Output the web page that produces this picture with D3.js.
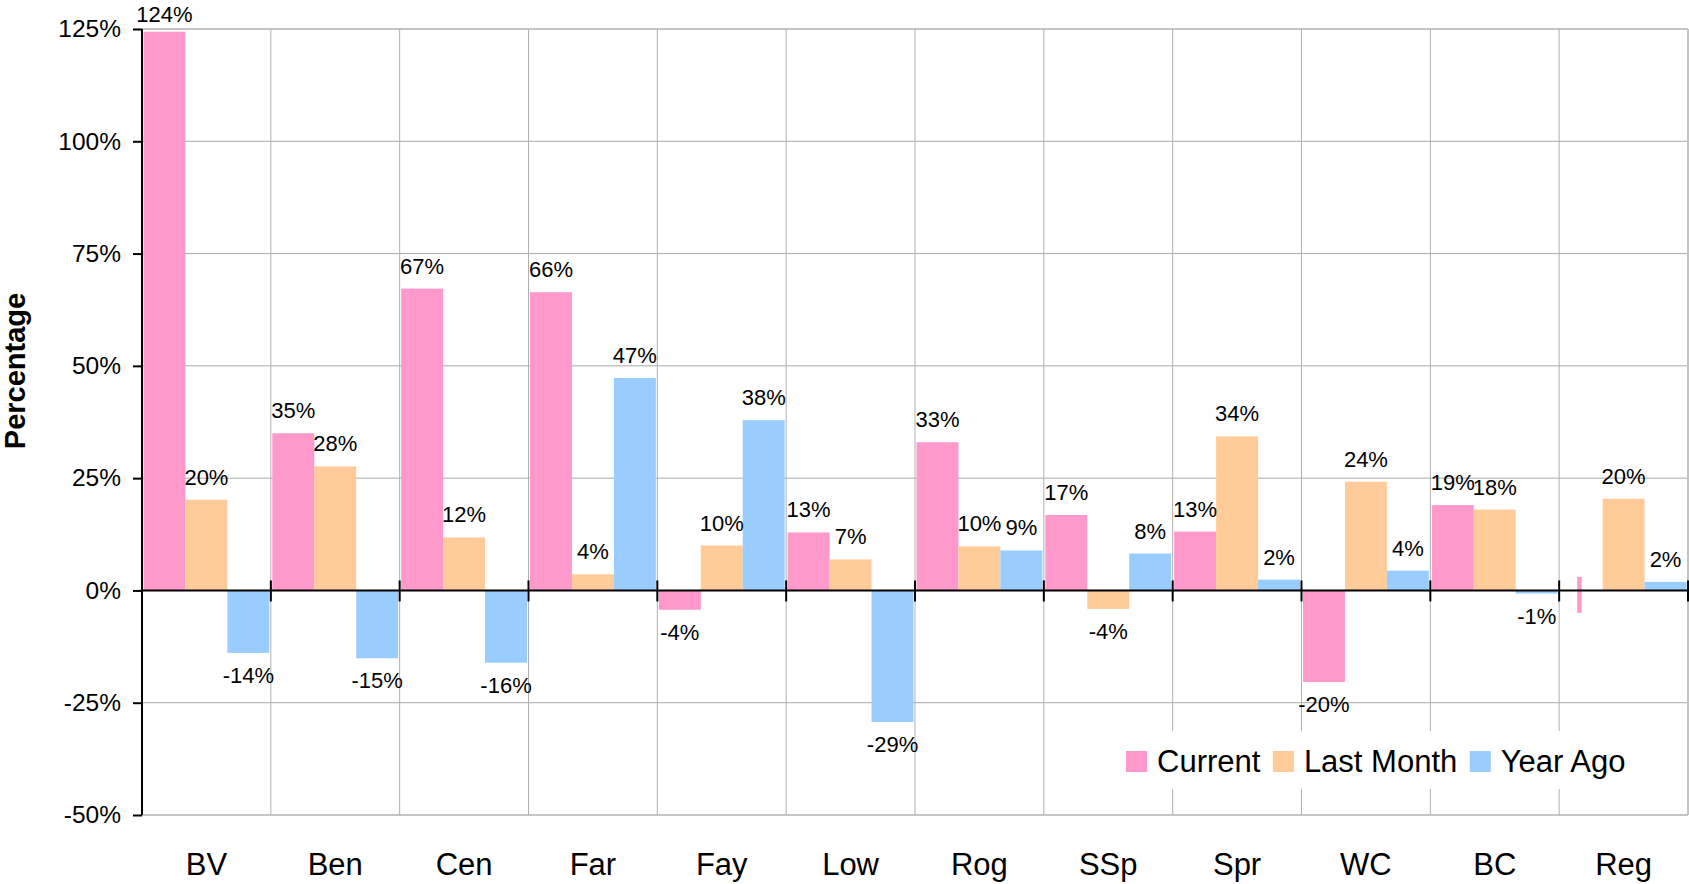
<!DOCTYPE html>
<html>
<head>
<meta charset="utf-8">
<script src="https://cdn.jsdelivr.net/npm/d3@7"></script>
<style>
  html, body { margin: 0; padding: 0; background: #fff; }
  svg { display: block; font-family: "Liberation Sans", Arial, sans-serif; }
</style>
</head>
<body>
<svg id="chart" width="1689" height="884"></svg>
<script>
// Monthly percentage change by branch
const categories = ["BV", "Ben", "Cen", "Far", "Fay", "Low", "Rog", "SSp", "Spr", "WC", "BC", "Reg"];
const current   = [124.4, 35.0, 67.2, 66.4, -4.3, 12.9, 33.0, 16.8, 13.1, -20.4, 19.0, null];
const lastMonth = [20.2, 27.6, 11.8, 3.6, 10.0, 6.9, 9.8, -4.1, 34.3, 24.2, 18.0, 20.4];
const yearAgo   = [-13.9, -15.1, -16.1, 47.3, 37.9, -29.3, 8.9, 8.2, 2.4, 4.4, -0.7, 1.9];
const seriesNames = ["Current", "Last Month", "Year Ago"];
const seriesColors = ["#ff99cc", "#ffcc99", "#99ccff"];
const yTicks = [-50, -25, 0, 25, 50, 75, 100, 125];
// Reg has no current figure; a thin stub marks its slot
const regCurrentStub = [-5, 3];

const series = [current, lastMonth, yearAgo];

const svg = d3.select("#chart");
const plot = { left: 142, right: 1688, top: 29, bottom: 815 };

const x = d3.scaleBand().domain(categories).range([plot.left, plot.right]).padding(0);
const xs = d3.scaleBand().domain(d3.range(series.length))
  .range([1.5, x.bandwidth() - 1.5]).padding(0);
const y = d3.scaleLinear().domain([-50, 125]).range([plot.bottom, plot.top]);

// percent with a plain hyphen for negatives
const fmt = v => Math.round(v) + "%";

// gridlines
const grid = svg.append("g");
grid.selectAll("line.h").data(yTicks.filter(t => t !== 0)).join("line")
  .attr("x1", plot.left).attr("x2", plot.right)
  .attr("y1", d => y(d)).attr("y2", d => y(d))
  .attr("stroke", d => (d === 125 || d === -50) ? "#c4c4c4" : "#a8a8a8")
  .attr("stroke-width", d => (d === 125 || d === -50) ? 2 : 1);
const boundaries = categories.map(c => x(c)).concat([plot.right]);
grid.selectAll("line.v").data(boundaries.slice(1)).join("line")
  .attr("x1", d => d).attr("x2", d => d)
  .attr("y1", plot.top).attr("y2", plot.bottom)
  .attr("stroke", (d, i) => i === boundaries.length - 2 ? "#c4c4c4" : "#b0b0b0")
  .attr("stroke-width", (d, i) => i === boundaries.length - 2 ? 2 : 1);

// bars
const bars = svg.append("g");
series.forEach((vals, si) => {
  bars.selectAll(null)
    .data(categories.map((c, i) => ({ c, v: vals[i] })).filter(d => d.v !== null))
    .join("rect")
    .attr("x", d => x(d.c) + xs(si))
    .attr("width", xs.bandwidth())
    .attr("y", d => y(Math.max(0, d.v)))
    .attr("height", d => Math.abs(y(d.v) - y(0)))
    .attr("fill", seriesColors[si]);
});
bars.append("rect")
  .attr("x", x("Reg") + xs(0) + xs.bandwidth() / 2 - 4.5)
  .attr("width", 4.5)
  .attr("y", y(regCurrentStub[1]))
  .attr("height", y(regCurrentStub[0]) - y(regCurrentStub[1]))
  .attr("fill", seriesColors[0]);

// zero line and category ticks
const axisG = svg.append("g");
axisG.append("line")
  .attr("x1", plot.left).attr("x2", plot.right)
  .attr("y1", y(0)).attr("y2", y(0))
  .attr("stroke", "#000").attr("stroke-width", 2);
axisG.selectAll("line.xt").data(boundaries).join("line")
  .attr("x1", d => d).attr("x2", d => d)
  .attr("y1", y(0) - 10).attr("y2", y(0) + 11)
  .attr("stroke", "#000").attr("stroke-width", 2);

// value axis
const yAxis = d3.axisLeft(y).tickValues(yTicks).tickFormat(fmt).tickSize(9).tickPadding(12);
const yg = svg.append("g").attr("transform", `translate(${plot.left},0)`).call(yAxis);
yg.select(".domain").attr("stroke", "#000").attr("stroke-width", 2)
  .attr("d", `M0,${plot.top}V${plot.bottom}`);
yg.selectAll(".tick line").attr("stroke", "#000").attr("stroke-width", 2);
yg.selectAll(".tick text").attr("font-size", 24.5).attr("fill", "#000")
  .attr("font-family", "Liberation Sans, Arial, sans-serif");

// category labels
svg.append("g").selectAll("text").data(categories).join("text")
  .attr("x", d => x(d) + x.bandwidth() / 2)
  .attr("y", 875)
  .attr("text-anchor", "middle")
  .attr("font-size", 31)
  .attr("fill", "#000")
  .text(d => d);

// data labels
const labels = svg.append("g");
series.forEach((vals, si) => {
  labels.selectAll(null)
    .data(categories.map((c, i) => ({ c, v: vals[i] })).filter(d => d.v !== null))
    .join("text")
    .attr("x", d => x(d.c) + xs(si) + xs.bandwidth() / 2)
    .attr("y", d => d.v >= 0 ? Math.max(22, y(d.v) - 15) : y(d.v) + 30)
    .attr("text-anchor", "middle")
    .attr("font-size", 22)
    .attr("fill", "#000")
    .text(d => fmt(d.v));
});

// axis title
svg.append("text")
  .attr("transform", "translate(25,371) rotate(-90)")
  .attr("text-anchor", "middle")
  .attr("font-size", 29)
  .attr("font-weight", "bold")
  .attr("fill", "#000")
  .text("Percentage");

// legend
const legend = svg.append("g");
legend.append("rect")
  .attr("x", 1110).attr("y", 731).attr("width", 530).attr("height", 58)
  .attr("fill", "#fff");
let lx = 1126;
seriesNames.forEach((name, i) => {
  legend.append("rect")
    .attr("x", lx).attr("y", 751).attr("width", 21).attr("height", 21)
    .attr("fill", seriesColors[i]);
  const t = legend.append("text")
    .attr("x", lx + 31).attr("y", 772)
    .attr("font-size", 31).attr("fill", "#000")
    .text(name);
  lx += 31 + t.node().getComputedTextLength() + 12.5;
});
</script>
</body>
</html>
